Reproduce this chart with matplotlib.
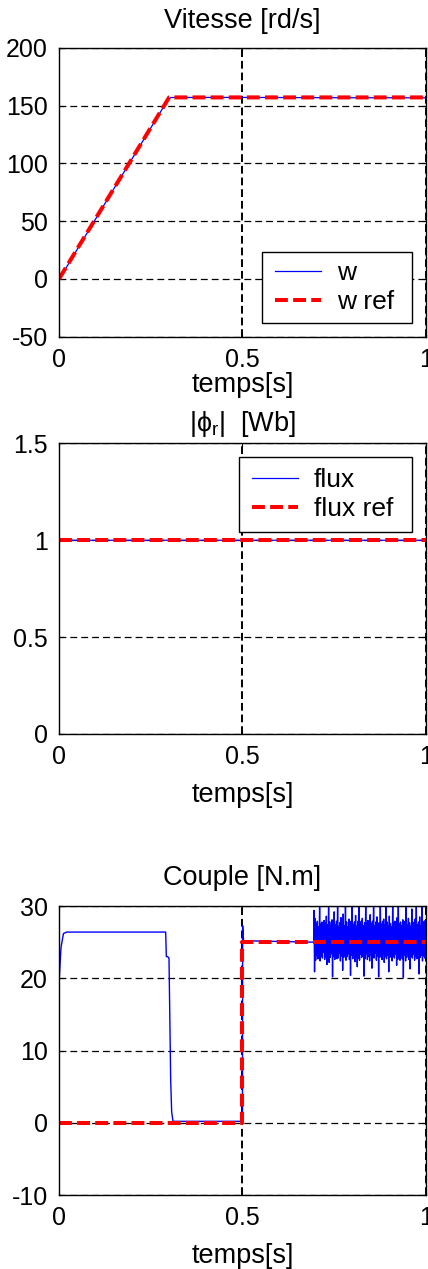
import matplotlib
matplotlib.use('Agg')

import matplotlib.pyplot as plt
from matplotlib.patches import Rectangle
import numpy as np

plt.rcParams.update({
    'font.family': ['Liberation Sans', 'DejaVu Sans'],
    'font.size': 18,
    'axes.titlesize': 19.5,
    'axes.labelsize': 19.5,
    'legend.fontsize': 19,
    'axes.unicode_minus': False,
    'mathtext.fontset': 'custom',
    'mathtext.rm': 'Liberation Sans',
    'mathtext.it': 'Liberation Sans',
})

# --- vitesse (rd/s) ---
t_w = [0.0, 0.004, 0.05, 0.10, 0.15, 0.20, 0.25, 0.298, 0.305, 0.40, 0.50, 0.60, 0.70, 0.80, 0.90, 1.0]
w = [0.0, 1.5, 25.8, 52.0, 78.3, 104.4, 130.6, 155.6, 156.9, 157.0, 157.0, 156.9, 156.8, 156.7, 156.7, 156.6]
t_w_ref = [0.0, 0.30, 1.0]
w_ref = [0.0, 157.0, 157.0]

# --- flux rotorique (Wb) ---
t_flux = [0.0, 0.0, 0.002, 1.0]
flux = [0.0, 0.97, 1.0, 1.0]
t_flux_ref = [0.0, 1.0]
flux_ref = [1.0, 1.0]

# --- couple (N.m) ---
t_ce_start = [0.0, 0.0, 0.0054, 0.012, 0.021, 0.2906, 0.2925, 0.296, 0.2997, 0.3043, 0.307, 0.3106,
              0.50, 0.5005, 0.503, 0.694]
ce_start = [0.0, 19.5, 24.3, 26.2, 26.4, 26.4, 23.0, 23.0, 22.8, 5.9, 1.5, 0.2,
            0.2, 27.3, 25.2, 25.0]
# régime avec ondulations de couple (0.695 s -> 1 s)
ce_osc = [
    29.4, 20.9, 28.3, 22.5, 27.6, 23.2, 27.9, 22.7, 27.1, 23.5, 30.2, 22.4, 27.5, 23.1, 27.8, 22.8, 27.2, 23.6, 28.0, 22.6,
    27.7, 23.0, 28.6, 21.9, 27.4, 23.3, 30.4, 22.2, 27.8, 22.9, 27.3, 23.4, 28.1, 20.2, 27.6, 23.0, 29.2, 22.6, 27.4, 23.2,
    27.9, 22.7, 30.3, 22.8, 27.2, 23.5, 27.7, 22.4, 28.4, 23.1, 27.5, 21.1, 28.9, 22.9, 27.3, 23.3, 30.1, 22.5, 27.8, 23.0,
    27.1, 23.4, 28.2, 22.6, 27.6, 20.4, 27.9, 23.2, 30.2, 22.7, 27.4, 23.5, 27.8, 22.3, 28.7, 23.0, 27.2, 21.6, 27.9, 22.8,
    30.3, 22.5, 27.5, 23.3, 27.9, 22.9, 28.3, 23.1, 27.3, 20.3, 27.7, 22.7, 30.2, 23.4, 27.6, 22.6, 28.0, 23.0, 27.4, 22.4,
    28.8, 23.2, 27.6, 21.4, 27.9, 23.0, 30.4, 22.8, 27.3, 23.5, 27.8, 22.5, 28.5, 23.1, 27.2, 20.2, 27.7, 22.9, 30.1, 23.3,
    27.5, 22.6, 27.9, 23.4, 28.2, 22.2, 27.4, 23.0, 30.3, 22.7, 27.8, 23.2, 27.3, 20.9, 28.6, 22.9, 27.6, 23.5, 27.1, 22.4,
    30.2, 23.1, 27.7, 22.8, 27.9, 23.3, 27.2, 21.8, 28.4, 22.6, 30.3, 23.0, 27.5, 22.5, 27.8, 23.4, 27.3, 22.7, 28.1, 20.1,
    27.6, 23.2, 27.9, 22.4, 30.4, 22.9, 27.4, 23.5, 28.3, 22.6, 27.7, 21.3, 27.2, 23.1, 29.6, 22.8, 27.8, 23.3, 27.5, 22.5,
    28.2, 23.0, 30.1, 22.7, 27.4, 23.4, 27.8, 20.6, 28.5, 22.9, 27.3, 23.2, 30.3, 22.4, 27.7, 23.1, 27.9, 22.8, 28.0, 23.0,
]
t_ce = np.concatenate([t_ce_start, np.linspace(0.695, 1.0, len(ce_osc))])
ce = np.concatenate([ce_start, ce_osc])
t_ce_ref = [0.0, 0.5, 0.5, 1.0]
ce_ref = [0.0, 0.0, 25.0, 25.0]

# graduations
x_ticks = [0, 0.5, 1]
x_ticklabels = ['0', '0.5', '1']
w_ticks = [-50, 0, 50, 100, 150, 200]
w_ticklabels = ['-50', '0', '50', '100', '150', '200']
flux_ticks = [0, 0.5, 1, 1.5]
flux_ticklabels = ['0', '0.5', '1', '1.5']
ce_ticks = [-10, 0, 10, 20, 30]
ce_ticklabels = ['-10', '0', '10', '20', '30']

fig = plt.figure(figsize=(4.28, 12.69), dpi=100)
ax1 = fig.add_axes([0.138, 0.7347, 0.857, 0.2277])
ax2 = fig.add_axes([0.138, 0.4216, 0.857, 0.2290])
ax3 = fig.add_axes([0.138, 0.0583, 0.857, 0.2277])

BLUE = (0, 0, 1)
RED = (1, 0, 0)
REF_STYLE = dict(color=RED, lw=2.9, linestyle=(0, (3.2, 1.3)))


def setup(ax, yticks, yticklabels, ylim):
    ax.set_xlim(0, 1)
    ax.set_ylim(*ylim)
    ax.set_xticks(x_ticks)
    ax.set_xticklabels(x_ticklabels)
    ax.set_yticks(yticks)
    ax.set_yticklabels(yticklabels)
    ax.tick_params(direction='in', length=3, width=0.8, pad=8, top=True, right=True)
    ax.xaxis.grid(True, color='k', lw=1.4, linestyle=(0, (4, 2)))
    ax.yaxis.grid(True, color='k', lw=0.9, linestyle=(0, (5.5, 3.2)))
    for sp in ax.spines.values():
        sp.set_linewidth(1.0)
        sp.set_zorder(5)


def legend(ax, box, handle_x):
    # cadre blanc de la légende (coordonnées axes), texte posé dedans
    x0, y0, x1, y1 = box
    ax.add_patch(Rectangle((x0, y0), x1 - x0, y1 - y0, transform=ax.transAxes,
                           facecolor='white', edgecolor='k', lw=1.0, zorder=6))
    leg = ax.legend(loc='center left', bbox_to_anchor=(handle_x, (y0 + y1) / 2),
                    frameon=False, borderpad=0, borderaxespad=0,
                    handlelength=1.75, handletextpad=0.6, labelspacing=0.2)
    leg.set_zorder(7)


# vitesse
ax1.plot(t_w, w, color=BLUE, lw=0.9, label='w')
ax1.plot(t_w_ref, w_ref, label='w ref', **REF_STYLE)
setup(ax1, w_ticks, w_ticklabels, (-50, 200))
ax1.set_title('Vitesse [rd/s]', pad=14)
ax1.set_xlabel('temps[s]', labelpad=0)
legend(ax1, (0.553, 0.047, 0.962, 0.293), 0.589)

# flux
ax2.plot(t_flux, flux, color=BLUE, lw=0.9, label='flux')
ax2.plot(t_flux_ref, flux_ref, label='flux ref', **REF_STYLE)
setup(ax2, flux_ticks, flux_ticklabels, (0, 1.5))
ax2.set_title(r'$|\phi_r|$  [Wb]', pad=9)
ax2.set_xlabel('temps[s]', labelpad=9)
legend(ax2, (0.490, 0.695, 0.962, 0.953), 0.526)

# couple
ax3.plot(t_ce, ce, color=BLUE, lw=1.0)
ax3.plot(t_ce_ref, ce_ref, **REF_STYLE)
setup(ax3, ce_ticks, ce_ticklabels, (-10, 30))
ax3.set_title('Couple [N.m]', pad=15)
ax3.set_xlabel('temps[s]', labelpad=9)

fig.savefig('out.png', dpi=100)
